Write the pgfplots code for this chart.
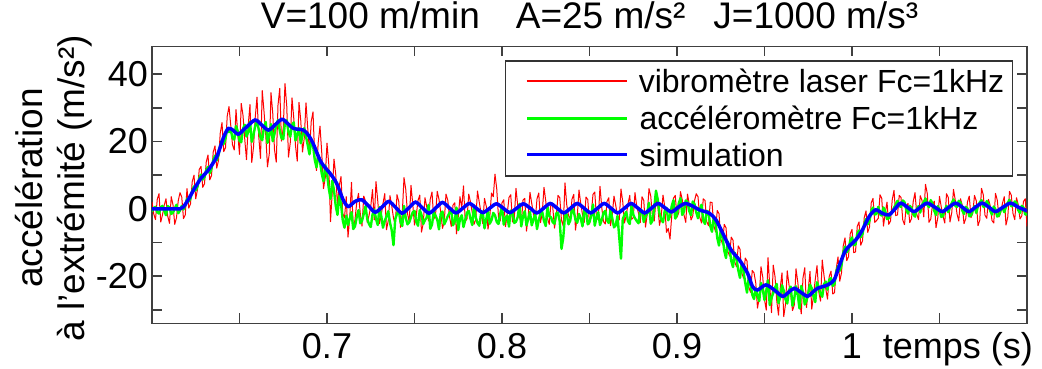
\documentclass[border=0pt]{standalone}
\usepackage{pgfplots}
\pgfplotsset{compat=1.18}
\usepackage{pgfplotstable}
\usepackage{fontspec}
\setmainfont{Liberation Sans}
\definecolor{vred}{RGB}{255,0,0}
\definecolor{vgreen}{RGB}{0,255,0}
\definecolor{vblue}{RGB}{0,0,255}
\newcommand{\legline}[2]{\hspace{12pt}\tikz[baseline={(0pt,-11.5pt)}]{\draw[draw=#1, line width=#2] (0pt,0pt) -- (100pt,0pt);}\hspace{11pt}}

\pgfplotstableread{
t r g
0.600 2.1 -0.8
0.601 -1.5 0.3
0.602 -3.2 0.6
0.603 2.8 -1.0
0.604 4.5 -1.4
0.605 -3.9 0.5
0.606 -1.8 0.9
0.607 1.1 -0.6
0.608 3.0 -1.9
0.609 -2.2 0.8
0.610 -4.3 0.4
0.611 3.6 -1.5
0.612 1.2 -1.1
0.613 -4.6 0.1
0.614 -2.6 1.2
0.615 2.4 -1.3
0.616 4.8 -0.5
0.617 3.5 0.9
0.618 -2.9 -0.2
0.619 -1.8 1.0
0.620 6.0 3.0
0.621 0.2 2.2
0.622 1.5 3.1
0.623 8.1 5.3
0.624 10.0 6.7
0.625 3.0 5.5
0.626 5.8 6.6
0.627 11.7 9.0
0.628 12.6 10.2
0.629 6.4 8.7
0.630 7.5 9.4
0.631 13.9 11.6
0.632 16.0 12.5
0.633 8.6 10.6
0.634 9.9 12.0
0.635 16.9 14.5
0.636 18.7 15.8
0.637 12.1 14.4
0.638 14.4 16.0
0.639 22.5 18.7
0.640 25.6 20.4
0.641 17.0 19.3
0.642 18.2 20.9
0.643 27.6 23.8
0.644 30.4 22.8
0.645 24.8 23.5
0.646 19.0 21.0
0.647 17.5 20.6
0.648 29.5 24.6
0.649 22.4 23.1
0.650 16.2 20.2
0.651 31.3 19.8
0.652 27.8 23.8
0.653 20.7 25.0
0.654 14.6 21.5
0.655 25.0 22.9
0.656 31.0 25.9
0.657 13.8 19.9
0.658 18.3 22.0
0.659 27.2 24.7
0.660 33.2 26.0
0.661 21.5 23.6
0.662 15.0 21.2
0.663 35.1 20.4
0.664 29.0 24.4
0.665 22.0 25.8
0.666 12.5 19.6
0.667 16.3 22.0
0.668 34.5 25.2
0.669 28.4 20.1
0.670 17.6 22.3
0.671 13.9 24.9
0.672 30.8 26.4
0.673 35.8 23.3
0.674 20.1 21.0
0.675 24.1 20.7
0.676 37.2 25.6
0.677 30.5 26.3
0.678 15.4 22.8
0.679 19.6 21.4
0.680 33.0 24.9
0.681 27.0 25.7
0.682 18.8 20.3
0.683 14.2 22.2
0.684 31.6 24.0
0.685 26.3 19.5
0.686 16.9 21.8
0.687 21.0 24.0
0.688 31.5 21.5
0.689 23.9 18.9
0.690 17.0 16.2
0.691 26.0 20.4
0.692 28.8 19.0
0.693 15.2 14.6
0.694 11.4 12.3
0.695 19.8 16.1
0.696 24.6 14.0
0.697 16.7 10.5
0.698 6.0 8.2
0.699 9.3 12.9
0.700 19.5 10.6
0.701 13.4 6.2
0.702 -3.8 3.0
0.703 4.9 8.4
0.704 14.8 5.5
0.705 10.2 0.9
0.706 1.0 -1.8
0.707 6.8 3.9
0.708 9.6 1.5
0.709 -1.4 -3.4
0.710 -2.7 -5.6
0.711 3.6 -2.0
0.712 -8.4 -4.8
0.713 -2.6 -2.9
0.714 7.9 -1.0
0.715 -6.1 -6.0
0.716 -3.2 -5.2
0.717 1.9 -2.4
0.718 4.6 -0.4
0.719 -1.3 -4.3
0.720 -5.1 -3.6
0.721 3.8 -1.5
0.722 2.3 0.8
0.723 -4.0 -3.0
0.724 -2.0 -4.5
0.725 0.7 -5.4
0.726 5.7 -1.7
0.727 -3.3 -0.2
0.728 8.1 -3.0
0.729 2.4 -4.8
0.730 -4.4 0.5
0.731 -1.8 -2.1
0.732 1.6 -5.6
0.733 4.5 -3.6
0.734 -6.2 -2.2
0.735 -3.5 -0.7
0.736 3.9 -4.1
0.737 0.9 -6.4
0.738 -2.7 -10.8
0.739 -4.9 -3.0
0.740 4.2 -1.5
0.741 2.2 -0.3
0.742 -5.5 -3.9
0.743 -1.6 -5.1
0.744 9.3 0.9
0.745 5.8 -2.7
0.746 -1.4 -4.6
0.747 -3.9 -4.0
0.748 7.0 -2.4
0.749 1.4 -1.0
0.750 -4.8 -0.6
0.751 -2.0 -3.8
0.752 2.5 -5.0
0.753 4.1 -0.4
0.754 -6.9 -1.8
0.755 -4.3 -4.5
0.756 3.3 -3.3
0.757 0.6 -2.6
0.758 -3.6 1.2
0.759 2.9 -5.9
0.760 5.0 -4.7
0.761 -3.1 -0.9
0.762 -1.9 -2.0
0.763 5.2 -3.2
0.764 2.8 -6.1
0.765 -1.0 -1.4
0.766 -5.8 -0.8
0.767 -3.8 -4.6
0.768 4.4 -3.5
0.769 2.6 -2.2
0.770 -2.3 -1.2
0.771 -5.2 -0.5
0.772 1.1 -4.9
0.773 1.8 -3.7
0.774 -7.4 0.4
0.775 -2.4 -6.3
0.776 3.6 -3.0
0.777 0.3 -1.9
0.778 6.8 -5.4
0.779 -3.7 -3.3
0.780 -3.0 -1.1
0.781 4.4 -0.6
0.782 2.0 -2.9
0.783 -1.1 -4.8
0.784 -4.6 1.0
0.785 -3.2 -2.5
0.786 5.3 -4.2
0.787 2.0 -5.0
0.788 -1.2 -1.6
0.789 -4.4 -0.8
0.790 3.1 -5.8
0.791 0.8 -3.1
0.792 -6.0 -0.3
0.793 -2.7 -4.4
0.794 4.7 -3.4
0.795 3.6 -1.2
0.796 10.3 -1.9
0.797 5.9 -3.9
0.798 -2.5 -4.5
0.799 -3.6 -1.4
0.800 1.8 0.7
0.801 2.7 -4.7
0.802 -5.3 -2.7
0.803 -1.4 -2.0
0.804 3.4 -5.3
0.805 4.2 -0.5
0.806 -3.9 -1.0
0.807 -2.8 -4.2
0.808 6.1 -3.8
0.809 0.9 -2.4
0.810 -2.2 1.5
0.811 -4.7 -5.2
0.812 2.6 -2.3
0.813 3.1 -0.7
0.814 -6.6 -4.9
0.815 -2.1 -3.0
0.816 4.9 -0.9
0.817 1.6 -4.9
0.818 -1.6 -3.1
0.819 -3.4 -1.6
0.820 3.0 -6.0
0.821 4.7 -3.3
0.822 -4.1 -1.4
0.823 -1.2 -0.9
0.824 6.4 -3.6
0.825 2.3 -5.1
0.826 -2.8 0.6
0.827 -4.6 -2.2
0.828 1.9 -2.5
0.829 0.5 -4.0
0.830 -5.7 -4.4
0.831 -2.3 -1.3
0.832 4.0 -1.1
0.833 3.3 -3.8
0.834 -3.4 -11.9
0.835 -5.1 -8.6
0.836 7.7 -2.0
0.837 1.2 -1.6
0.838 -2.0 -4.6
0.839 -3.0 -3.5
0.840 2.9 0.2
0.841 4.3 -0.8
0.842 -6.3 -3.2
0.843 -2.2 -4.1
0.844 5.6 -1.5
0.845 1.5 -2.8
0.846 -1.7 -5.2
0.847 -4.0 -0.4
0.848 3.5 -0.7
0.849 2.8 -4.6
0.850 -4.5 -3.9
0.851 -1.5 -2.0
0.852 4.3 1.3
0.853 5.0 -5.0
0.854 -2.6 -2.6
0.855 -3.2 -1.0
0.856 6.7 -4.8
0.857 0.4 -3.3
0.858 -3.8 -1.2
0.859 -4.5 -0.6
0.860 2.2 -3.4
0.861 3.3 -4.2
0.862 -5.0 -0.4
0.863 -1.8 -2.8
0.864 3.8 -5.5
0.865 1.0 -4.9
0.866 -2.1 -2.1
0.867 -3.3 -8.5
0.868 5.9 -14.8
0.869 2.1 -3.0
0.870 -4.2 -1.8
0.871 -1.9 -0.9
0.872 1.5 -3.7
0.873 4.0 -4.5
0.874 -3.1 0.9
0.875 -2.6 -1.7
0.876 4.8 -2.8
0.877 0.7 -3.6
0.878 -1.3 -4.3
0.879 -4.1 -0.2
0.880 3.6 -0.6
0.881 2.5 -3.9
0.882 -5.4 -2.4
0.883 -1.6 -1.1
0.884 6.0 1.8
0.885 3.8 -4.4
0.886 -2.4 -3.5
0.887 -3.6 0.4
0.888 2.7 5.4
0.889 1.0 2.8
0.890 -4.9 -1.3
0.891 -2.2 -3.1
0.892 4.1 -4.0
0.893 0.6 -0.5
0.894 -7.0 0.3
0.895 -5.8 -3.4
0.896 -9.0 -2.2
0.897 -2.0 0.9
0.898 3.2 2.6
0.899 4.0 -2.9
0.900 -2.5 -1.7
0.901 -1.1 1.6
0.902 5.1 3.2
0.903 2.7 -1.8
0.904 -1.8 -0.8
0.905 -4.0 2.5
0.906 4.4 2.1
0.907 1.3 -0.7
0.908 -3.3 -1.9
0.909 -2.1 2.2
0.910 2.4 1.4
0.911 4.5 -1.0
0.912 3.6 -2.8
0.913 -2.5 -0.2
0.914 -4.2 1.2
0.915 3.0 -3.5
0.916 2.5 -4.5
0.917 -3.8 -0.6
0.918 -5.0 -0.9
0.919 2.0 -5.1
0.920 1.9 -6.8
0.921 -4.9 -2.6
0.922 -6.8 -4.0
0.923 -0.5 -8.6
0.924 -1.4 -10.9
0.925 -8.9 -6.3
0.926 -10.5 -8.1
0.927 -4.6 -12.4
0.928 -5.6 -14.6
0.929 -12.5 -9.7
0.930 -14.0 -11.5
0.931 -8.4 -15.5
0.932 -9.3 -17.3
0.933 -15.8 -13.0
0.934 -17.2 -14.8
0.935 -11.0 -18.2
0.936 -12.0 -20.5
0.937 -19.0 -16.1
0.938 -20.6 -18.6
0.939 -14.6 -22.0
0.940 -15.5 -24.9
0.941 -23.2 -20.4
0.942 -24.8 -22.3
0.943 -18.3 -25.5
0.944 -19.0 -26.8
0.945 -22.0 -23.6
0.946 -29.5 -25.8
0.947 -26.4 -27.4
0.948 -17.2 -22.0
0.949 -20.3 -23.9
0.950 -27.0 -27.1
0.951 -30.1 -24.4
0.952 -14.5 -21.2
0.953 -22.8 -28.6
0.954 -30.8 -26.5
0.955 -16.7 -25.0
0.956 -20.1 -23.4
0.957 -27.3 -22.3
0.958 -31.6 -28.0
0.959 -23.5 -26.2
0.960 -19.0 -22.7
0.961 -32.0 -24.3
0.962 -28.4 -26.9
0.963 -18.4 -28.1
0.964 -22.6 -24.1
0.965 -25.5 -23.1
0.966 -30.2 -28.8
0.967 -28.6 -26.7
0.968 -17.8 -23.0
0.969 -21.7 -25.6
0.970 -26.9 -29.6
0.971 -31.2 -22.9
0.972 -20.5 -24.8
0.973 -17.5 -28.4
0.974 -29.3 -27.3
0.975 -24.0 -25.1
0.976 -18.6 -22.5
0.977 -29.8 -23.6
0.978 -25.8 -26.0
0.979 -21.0 -27.7
0.980 -16.9 -21.8
0.981 -24.6 -23.3
0.982 -27.4 -25.2
0.983 -15.2 -26.1
0.984 -19.8 -22.4
0.985 -23.7 -21.6
0.986 -26.8 -24.0
0.987 -20.1 -21.0
0.988 -18.5 -20.6
0.989 -25.3 -22.9
0.990 -24.9 -22.3
0.991 -17.8 -18.6
0.992 -14.3 -17.0
0.993 -21.5 -18.4
0.994 -19.0 -16.8
0.995 -11.0 -13.0
0.996 -8.6 -11.2
0.997 -15.4 -12.9
0.998 -14.2 -12.1
0.999 -7.4 -9.4
1.000 -6.1 -8.5
1.001 -13.0 -10.8
1.002 -12.8 -10.6
1.003 -5.2 -7.4
1.004 -3.9 -6.4
1.005 -10.8 -8.4
1.006 -9.5 -7.5
1.007 -2.6 -4.5
1.008 -0.6 -3.0
1.009 -7.0 -4.6
1.010 -5.4 -3.6
1.011 1.8 -0.5
1.012 3.1 0.4
1.013 -4.0 -1.7
1.014 -3.5 -1.5
1.015 -2.8 0.6
1.016 4.2 -1.6
1.017 3.1 -2.0
1.018 -5.1 0.4
1.019 -1.2 -0.7
1.020 2.0 -3.0
1.021 -4.6 -2.8
1.022 -3.6 -1.2
1.023 2.7 -0.9
1.024 5.5 0.3
1.025 -2.0 1.3
1.026 -1.8 2.4
1.027 4.0 0.8
1.028 3.4 0.6
1.029 -3.3 2.5
1.030 -4.7 2.0
1.031 0.8 -0.2
1.032 1.6 -1.4
1.033 -4.1 0.9
1.034 -2.9 0.3
1.035 2.2 -1.6
1.036 4.8 -2.3
1.037 -1.6 -0.1
1.038 -3.2 0.8
1.039 3.9 -1.1
1.040 2.5 1.2
1.041 -2.4 2.0
1.042 7.3 3.1
1.043 4.6 1.2
1.044 -4.0 0.5
1.045 -3.0 2.6
1.046 1.2 1.6
1.047 2.3 -0.6
1.048 -5.6 -1.8
1.049 -2.7 0.8
1.050 3.7 -0.2
1.051 0.6 -2.4
1.052 -2.2 -2.1
1.053 -4.2 -0.3
1.054 4.5 0.9
1.055 3.4 -1.0
1.056 -3.9 0.4
1.057 -1.1 1.7
1.058 5.8 2.8
1.059 2.6 0.9
1.060 -1.5 0.6
1.061 -3.6 2.4
1.062 3.0 1.9
1.063 1.1 -0.5
1.064 -4.4 -1.5
1.065 -2.9 0.6
1.066 2.1 0.1
1.067 3.8 -2.2
1.068 -2.6 -2.0
1.069 -1.3 -0.4
1.070 4.0 0.8
1.071 2.4 -1.2
1.072 -5.0 0.9
1.073 -3.4 1.9
1.074 6.1 2.6
1.075 4.2 0.6
1.076 -1.9 0.7
1.077 -2.8 2.3
1.078 2.8 1.5
1.079 0.9 -0.6
1.080 -3.5 -1.7
1.081 -4.2 0.7
1.082 4.6 -0.2
1.083 2.6 -2.3
1.084 -2.4 -1.9
1.085 -1.0 -0.3
1.086 1.7 0.5
1.087 3.6 -1.0
1.088 -4.8 0.6
1.089 -2.5 1.8
1.090 5.2 2.7
1.091 4.1 0.8
1.092 -1.4 1.0
1.093 -3.2 2.2
1.094 3.3 1.8
1.095 1.2 -0.4
1.096 -3.0 -1.2
1.097 -2.1 0.9
1.098 2.2 0.4
1.099 3.0 -1.7
1.100 -5.2 -1.6
}\measdata

\pgfplotstableread{
t b
0.600 0.0
0.608 0.0
0.616 0.0
0.618 0.6
0.621 3.0
0.624 5.8
0.628 9.1
0.632 11.4
0.637 15.5
0.641 21.4
0.6437 23.9
0.6465 23.3
0.6494 22.2
0.6540 24.3
0.6589 26.4
0.6625 25.0
0.6665 23.4
0.6700 24.8
0.6742 26.6
0.6775 25.4
0.6808 23.9
0.6865 23.4
0.6895 21.8
0.6920 19.5
0.6960 14.5
0.6990 12.2
0.7017 10.6
0.7055 7.6
0.7093 2.6
0.7122 0.7
0.7160 2.2
0.7198 2.7
0.7237 0.9
0.7275 -1.0
0.7314 0.5
0.7352 2.2
0.7391 0.5
0.7429 -1.3
0.7468 0.3
0.7506 2.0
0.7545 0.3
0.7583 -1.3
0.7622 0.3
0.7660 1.9
0.7699 0.3
0.7737 -1.2
0.7776 0.2
0.7814 1.6
0.7853 0.2
0.7891 -1.1
0.7930 0.2
0.7968 1.5
0.8007 0.2
0.8045 -1.1
0.8084 0.2
0.8122 1.5
0.8161 0.2
0.8199 -1.2
0.8238 0.2
0.8276 1.6
0.8315 0.2
0.8353 -1.2
0.8392 0.2
0.8430 1.6
0.8469 0.2
0.8507 -1.2
0.8546 0.2
0.8584 1.6
0.8623 0.2
0.8661 -1.2
0.8700 0.2
0.8738 1.6
0.8777 0.2
0.8815 -1.2
0.8854 0.2
0.8892 1.6
0.8931 0.3
0.8969 -0.9
0.9008 0.5
0.9046 1.6
0.9090 0.8
0.9128 -0.3
0.9185 -1.3
0.9223 -3.3
0.9261 -7.2
0.9309 -12.2
0.9357 -15.2
0.9403 -19.1
0.9432 -23.1
0.9460 -24.1
0.9508 -22.6
0.9556 -24.1
0.9603 -26.0
0.9637 -24.8
0.9670 -23.6
0.9708 -24.8
0.9746 -26.0
0.9775 -24.8
0.9803 -23.6
0.9860 -22.6
0.9898 -21.1
0.9926 -17.1
0.9965 -12.2
1.0022 -9.2
1.0059 -6.3
1.0098 -2.3
1.0135 -0.3
1.0173 -1.3
1.0211 -1.8
1.0249 0.2
1.0278 1.7
1.0316 0.5
1.0354 -0.8
1.0392 0.5
1.0430 1.7
1.0473 0.5
1.0516 -0.8
1.0554 0.5
1.0592 1.7
1.0630 0.5
1.0668 -0.8
1.0706 0.5
1.0744 1.7
1.0782 0.5
1.0820 -0.8
1.0863 0.5
1.0906 1.7
1.0950 0.5
1.1000 -0.6
}\simdata

\begin{document}
\begin{tikzpicture}
\begin{axis}[
  at={(0pt,0pt)}, anchor=south west,
  scale only axis, width=875pt, height=277pt,
  xmin=0.6, xmax=1.1, ymin=-34, ymax=48.3,
  axis line style={line width=1.5pt, black!75},
  every tick/.style={black!75, line width=1.5pt},
  major tick length=10pt,
  xtick={0.65,0.7,0.75,0.8,0.85,0.9,0.95,1,1.05},
  xticklabels={{},0.7,{},0.8,{},0.9,{},1,{}},
  ytick={-30,-20,-10,0,10,20,30,40},
  yticklabels={{},-20,{},0,{},20,{},40},
  tick label style={font=\fontsize{36}{40}\selectfont},
  xticklabel style={anchor=base, yshift=-35pt, inner sep=0pt},
  yticklabel style={anchor=east, inner sep=0pt, xshift=-4pt},
  xlabel={temps (s)},
  xlabel style={font=\fontsize{36}{40}\selectfont, at={(axis description cs:1,0)}, anchor=base east, xshift=6pt, yshift=-35pt, inner sep=0pt},
  ylabel={accélération\\à l'extrémité (m/s²)},
  ylabel style={font=\fontsize{37}{42}\selectfont, align=center, at={(axis description cs:-0.112,0.488)}, anchor=center, inner sep=0pt},
  title={V=100 m/min\hspace{36pt}A=25 m/s²\hspace{28pt}J=1000 m/s³},
  title style={font=\fontsize{37}{40}\selectfont, at={(axis description cs:0.5,1)}, anchor=base, yshift=12pt, inner sep=0pt},
  legend image code/.code={},
  legend style={at={(axis description cs:1,1)}, anchor=north east, xshift=-14pt, yshift=-14pt,
    draw=black!80, line width=1.5pt, inner xsep=8pt, inner ysep=8pt, row sep=12pt, column sep=0pt,
    font=\fontsize{32}{36}\selectfont, nodes={inner sep=0pt}, cells={anchor=west}},
]
\addplot[draw=vred, line width=1.0pt, line join=round] table[x=t,y=r]{\measdata};
\addlegendentry{\legline{vred}{2.2pt}vibromètre laser Fc=1kHz}
\addplot[draw=vgreen, line width=2.4pt, line join=round] table[x=t,y=g]{\measdata};
\addlegendentry{\legline{vgreen}{3pt}accéléromètre Fc=1kHz}
\addplot[draw=vblue, line width=3.5pt, smooth] table[x=t,y=b]{\simdata};
\addlegendentry{\legline{vblue}{3pt}simulation}
\end{axis}
\path (-152pt,-45.7pt) rectangle (890pt,323.3pt);
\end{tikzpicture}
\end{document}
